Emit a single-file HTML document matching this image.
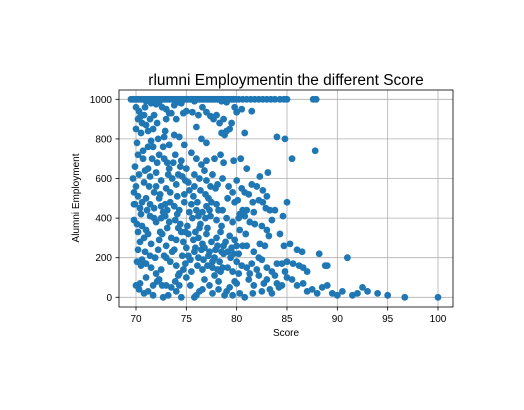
<!DOCTYPE html>
<html><head><meta charset="utf-8"><style>
html,body{margin:0;padding:0;background:#fff;}
svg{display:block;font-family:"Liberation Sans","DejaVu Sans",sans-serif;}
</style></head><body>
<svg id="chart" width="524" height="410">
<text x="286" y="85" font-size="15.5" text-anchor="middle" fill="#000">rlumni Employmentin the different Score</text>
<g id="grid"></g>
<g id="points"></g>
<rect x="119" y="90" width="334" height="217" fill="none" stroke="#000" stroke-width="0.8"/>
<g id="ticks"></g>
<text x="286" y="336" font-size="10" text-anchor="middle">Score</text>
<text x="0" y="0" font-size="10" text-anchor="middle" transform="translate(79,198) rotate(-90)">Alumni Employment</text>
</svg>
<script>
const xTicks=[70,75,80,85,90,95,100];
const yTicks=[0,200,400,600,800,1000];
const topX=[69.5,69.7,69.9,70.1,70.3,70.5,70.7,70.9,71.1,71.3,71.5,71.7,71.9,72.1,72.3,72.5,72.7,72.9,73.1,73.3,73.5,73.7,73.9,74.1,74.3,74.5,74.7,74.9,75.1,75.3,75.5,75.7,75.9,76.1,76.3,76.5,76.7,76.9,77.1,77.3,77.5,77.7,77.9,78.1,78.3,78.5,78.7,78.9,79.1,79.3,79.5,79.7,79.9,80.2,80.6,81,81.4,81.8,82.2,82.6,83,83.4,83.8,84.3,84.7,85,87.6,87.9];
const scoreVals=[70,70.3,70.8,71.5,72,72.6,73,73.3,73.8,74.2,74.5,75,75.6,76.2,77,77.4,78,78.7,79,80,80.5,72.3,71,75.8,78.5,
70.2,70.6,71,71.4,71.8,70,70.5,71.2,73.5,74,76,77.7,78.3,79.5,80.8,
71.5,72.2,72.8,73.3,73.8,74.3,74.8,76.5,77,78.5,79,79.3,78.8,72.9,71.2,70.1,70.7,84,84.8,
70.2,70.7,71.2,71.6,72.3,72.8,73.3,73.9,74.5,75,75.5,76,76.5,77,77.8,78.4,78.7,79.7,80.4,81,82.3,83.1,85.5,87.8,72,74.2,76.8,75.8,73.1,
69.9,70.3,70.8,71.4,72,72.5,73,73.6,74,74.6,75.2,75.8,76.3,77,77.4,77.9,80,80.5,80.8,81.5,82,82.6,83,85,70,71.8,73.4,74.8,
69.8,70.2,70.6,71,71.4,71.8,72.3,72.9,73.4,73.8,74.3,74.8,75.5,76,76.6,77,77.5,78,78.6,79.1,79.8,80.3,81,81.7,82.2,82.6,83.3,83.8,84.6,70.5,72.7,71.8,69.8,
70.1,70.6,71,71.4,72,72.5,72.9,73.3,73.9,74.4,74.9,75.6,76.2,76.9,77.4,78,78.5,79,79.6,80.2,80.8,81.3,81.8,82.5,83,83.5,85.3,86,86.5,84.7,84.3,83.2,
70.2,70.8,71.5,72.3,72.6,73,73.5,74,74.5,75.2,75.7,76.2,76.6,77,77.5,78,78.4,78.9,79.3,79.8,80,73.8,72.2,74.7,75,75.9,76.5,77.3,77.9,78.7,79.5,82.3,82.8,
70.1,70.5,71,71.5,72,72.5,73,73.4,74,74.3,74.7,75.2,75.8,76.2,76.7,77.2,77.8,78.3,78.7,79.4,80,80.5,81,81.5,82,82.5,83,83.5,84,84.5,85,85.6,86.2,86.6,87,88.2,88.8,89,91,72.8,74.9,
70,70.3,70.8,71.2,71.7,72.3,72.7,73,73.5,74,74.5,75,75.8,76.3,76.8,77.3,77.8,78.2,78.8,79.3,79.8,80.3,80.8,81.2,81.7,82.2,82.5,83,83.5,84,84.5,85,85.5,86,86.6,87,87.5,88,88.5,89,89.5,90,90.5,91.5,92,92.5,93,94,95,96.7,100,73.2,76,79,80,71,75.5,74.2,78.4,81.3,70.4,
69.7,69.9,70.4,70.9,71.3,71.7,72.1,72.4,72.7,73.2,73.7,74.1,74.4,74.9,75.3,75.7,76.1,76.4,76.9,77.2,77.6,78.1,78.6,79.2,79.6,80.1,81.2,73,72.1,70.9,70.4,71.7,74.7,76.6,79.8,81.5,69.8,70.4,70.9,71.2,71.9,72.4,73.1,73.6,74.2,74.6,75.1,75.4,75.9,76.3,76.8,77.1,77.6,78.1,78.5,79.1,79.7,80.2,80.6,81,76.1,76.6,77.1,77.6,78.1,78.6,79.1,79.6,80.2,72.1,72.6,73.9,74.3,75.4,76.6,77.6,78.2,79.6,81.6,82.7,83.8,84.8,80.6,81.6,82.9,70.6,71.4,70.2,71.7,84.2,83.3,82.2,81.7,80.9,80.3,78.2,77.3,76.4,75.3,74.1,73.1,72.5,71.1];
const employVals=[960,940,920,980,975,960,950,930,970,985,980,940,935,920,935,915,920,900,985,935,950,985,990,990,990,
900,880,870,900,920,850,830,840,930,900,860,900,880,880,830,
790,800,810,770,820,810,770,800,780,830,840,850,820,840,760,780,740,810,800,
720,700,650,700,720,700,650,720,690,650,730,700,670,690,700,720,680,690,700,650,610,630,700,740,630,620,640,620,680,
660,620,580,610,560,590,550,600,570,610,580,560,600,590,560,550,590,550,530,570,560,540,510,480,560,530,530,520,
530,510,480,500,470,450,500,470,480,460,440,480,470,440,430,460,480,470,440,500,480,420,440,430,490,480,440,440,410,420,430,400,390,
370,360,340,410,380,400,410,380,390,370,330,400,410,400,410,390,360,400,380,400,410,380,370,360,340,390,270,240,230,260,320,310,
330,300,270,290,320,260,300,290,330,320,290,300,270,320,280,300,330,280,310,290,260,240,240,280,250,250,240,230,240,260,250,270,260,
180,160,170,150,120,140,200,180,160,120,140,210,230,200,190,210,200,180,220,200,180,160,150,170,140,190,150,130,170,170,180,170,160,150,130,220,160,160,200,210,170,
60,40,20,30,10,90,0,60,50,30,0,100,0,30,90,60,110,80,10,50,80,20,0,90,60,110,30,90,20,70,60,100,90,60,70,30,40,20,50,60,20,10,30,10,20,50,30,20,10,0,0,10,10,30,70,100,130,110,130,120,70,
600,470,450,640,560,760,680,520,760,620,680,510,660,590,540,510,480,540,520,500,620,570,600,560,530,490,520,900,880,960,910,850,930,960,960,940,470,280,230,320,200,330,350,230,350,210,360,190,330,350,250,350,180,260,230,230,220,220,260,260,160,140,160,150,140,150,150,130,120,80,60,80,60,60,40,20,40,10,20,70,110,130,440,480,450,190,210,240,60,50,40,200,230,320,340,440,440,370,430,420,440,460,440];
const NS='http://www.w3.org/2000/svg';
const X0=136,X1=438,XMIN=70,XMAX=100,Y0=297.3,Y1=99.3;
function sx(v){return X0+(v-XMIN)*(X1-X0)/(XMAX-XMIN);}
function sy(v){return Y0+(v)*(Y1-Y0)/1000;}
const grid=document.getElementById('grid'),ticks=document.getElementById('ticks'),pts=document.getElementById('points');
function mk(tag,attrs,parent){const e=document.createElementNS(NS,tag);for(const k in attrs)e.setAttribute(k,attrs[k]);parent.appendChild(e);return e;}
xTicks.forEach(t=>{
  const g=mk('line',{x1:sx(t),x2:sx(t),y1:90,y2:307,stroke:'#b0b0b0','stroke-width':0.8},grid);
  
  
  const tk=mk('line',{x1:sx(t),x2:sx(t),y1:307,y2:310.5,stroke:'#000','stroke-width':0.8},ticks);
  
  
  const lb=mk('text',{x:sx(t),y:322,'font-size':10,'text-anchor':'middle'},ticks);
  lb.textContent=t;
  
  
});
yTicks.forEach(t=>{
  const g=mk('line',{x1:119,x2:453,y1:sy(t),y2:sy(t),stroke:'#b0b0b0','stroke-width':0.8},grid);
  
  
  const tk=mk('line',{x1:115.5,x2:119,y1:sy(t),y2:sy(t),stroke:'#000','stroke-width':0.8},ticks);
  
  
  const lb=mk('text',{x:112,y:sy(t)+3.5,'font-size':10,'text-anchor':'end'},ticks);
  lb.textContent=t;
  
  
});
topX.forEach(x=>{
  const c=mk('circle',{cx:sx(x),cy:sy(1000),r:3.4,fill:'#1f77b4'},pts);
  
  
});
scoreVals.forEach((x,i)=>{
  const c=mk('circle',{cx:sx(x),cy:sy(employVals[i]),r:3.4,fill:'#1f77b4'},pts);
  
  
});
</script>
</body></html>
